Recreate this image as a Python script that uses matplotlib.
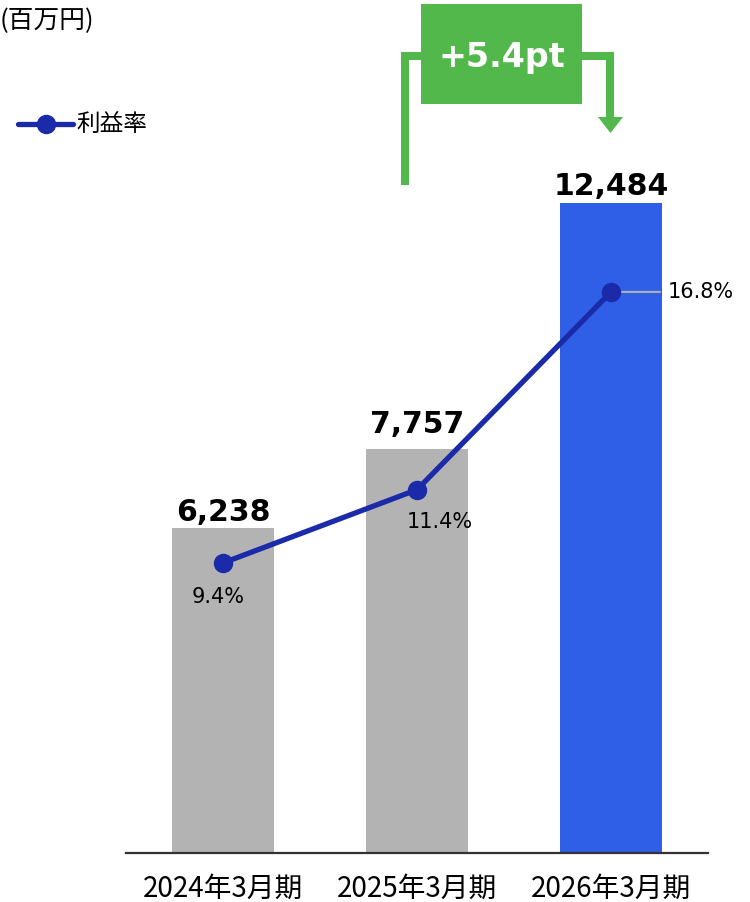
import matplotlib.pyplot as plt
from matplotlib.lines import Line2D
from matplotlib.patches import Rectangle, Polygon

periods = ['2024年3月期', '2025年3月期', '2026年3月期']
sales = [6238, 7757, 12484]          # 百万円
margin = [9.4, 11.4, 16.8]           # 利益率 (%)
margin_delta = '+5.4pt'

bar_colors = ['#b3b3b3', '#b3b3b3', '#2e5fe6']
line_color = '#1b2aa8'
green = '#52b84b'
jp = ['Noto Sans CJK JP', 'DejaVu Sans']

plt.rcParams['font.family'] = ['DejaVu Sans']

W, H = 750, 902


def fx(px):
    return px / W


def fy(py):
    return 1 - py / H


fig = plt.figure(figsize=(W / 100, H / 100), dpi=100)
ax = fig.add_axes([fx(126), fy(853), fx(582), 853 / H])
x = list(range(len(periods)))

ax.bar(x, sales, width=0.53, color=bar_colors, zorder=2)
ax.set_xlim(-0.5, 2.5)
ax.set_ylim(0, 16383)
ax.set_yticks([])
ax.set_xticks(x)
ax.set_xticklabels(periods, family=jp, fontsize=20)
ax.tick_params(axis='x', length=0, pad=15)
for s in ['top', 'left', 'right']:
    ax.spines[s].set_visible(False)
ax.spines['bottom'].set_color('#333333')
ax.spines['bottom'].set_linewidth(1.6)

# bar value labels (the middle one sits higher to clear the line)
label_offsets = [7, 16, 8]
for i, v in enumerate(sales):
    ax.annotate(f'{v:,}', (i, v), xytext=(0, label_offsets[i]), textcoords='offset pixels',
                ha='center', va='baseline', fontsize=21.5, fontweight='bold', color='black')

# margin line on its own scale
ax2 = ax.twinx()
ax2.set_ylim(1.48, 24.77)
ax2.set_yticks([])
for s in ax2.spines.values():
    s.set_visible(False)
ax2.plot(x, margin, color=line_color, lw=3.8, marker='o', ms=13, zorder=4)

ax2.annotate(f'{margin[0]}%', (0, margin[0]), xytext=(-5, -34), textcoords='offset pixels',
             ha='center', va='center', fontsize=15)
ax2.annotate(f'{margin[1]}%', (1, margin[1]), xytext=(23, -32), textcoords='offset pixels',
             ha='center', va='center', fontsize=15)
ax2.annotate('', (2, margin[2]), xytext=(49, 0), textcoords='offset pixels',
             arrowprops=dict(arrowstyle='-', color='#b0b0b0', lw=1.5, shrinkA=0, shrinkB=0), zorder=3)
ax2.annotate(f'{margin[2]}%', (2, margin[2]), xytext=(57, 0), textcoords='offset pixels',
             ha='left', va='center', fontsize=15)

# unit and legend
fig.text(fx(0), fy(21), '(百万円)', family=jp, fontsize=18.5, ha='left', va='center')
fig.add_artist(Line2D([fx(18), fx(73)], [fy(124), fy(124)], transform=fig.transFigure,
                      color=line_color, lw=3.8, solid_capstyle='round'))
fig.add_artist(Line2D([fx(46)], [fy(124)], transform=fig.transFigure,
                      color=line_color, marker='o', ms=13))
fig.text(fx(76), fy(124), '利益率', family=jp, fontsize=17, ha='left', va='center')

# margin improvement bracket
fig.add_artist(Line2D([fx(405), fx(405), fx(422)], [fy(185), fy(56), fy(56)],
                      transform=fig.transFigure, color=green, lw=5.8,
                      solid_capstyle='butt', solid_joinstyle='miter'))
fig.add_artist(Line2D([fx(581), fx(610), fx(610)], [fy(56), fy(56), fy(119)],
                      transform=fig.transFigure, color=green, lw=5.8,
                      solid_capstyle='butt', solid_joinstyle='miter'))
fig.add_artist(Polygon([(fx(598), fy(117)), (fx(623), fy(117)), (fx(610.5), fy(133))],
                       closed=True, transform=fig.transFigure, color=green, lw=0))
fig.add_artist(Rectangle((fx(421), fy(104)), fx(161), 100 / H,
                         transform=fig.transFigure, color=green, lw=0))
fig.text(fx(502), fy(57), margin_delta, ha='center', va='center',
         fontsize=24, fontweight='bold', color='white')

fig.savefig('out.png', dpi=100)
